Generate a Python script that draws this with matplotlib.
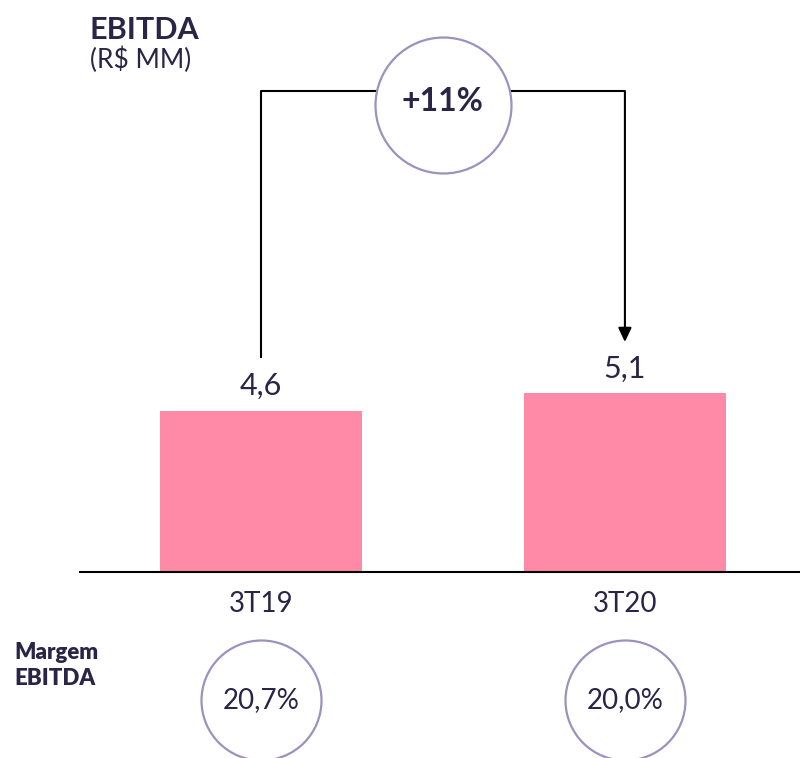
import matplotlib
matplotlib.use("Agg")
import matplotlib.pyplot as plt

# data
periods = ["3T19", "3T20"]
ebitda = [4.6, 5.1]
value_labels = ["4,6", "5,1"]
margins = ["20,7%", "20,0%"]
growth = "+11%"

navy = "#2a2546"
pink = "#ff8aa7"
lilac = "#9d91bd"

plt.rcParams["font.family"] = ["Lato", "DejaVu Sans"]

fig = plt.figure(figsize=(8, 7.58), dpi=100)
ax = fig.add_axes([0.1, 186 / 758, 0.9, 572 / 758])

x = list(range(len(periods)))
ax.bar(x, ebitda, width=0.555, color=pink, zorder=2)

ax.set_xlim(-0.497, 1.481)
ax.set_ylim(0, 16.34)
for side in ["top", "left", "right"]:
    ax.spines[side].set_visible(False)
ax.spines["bottom"].set_linewidth(1.5)
ax.spines["bottom"].set_color("black")
ax.set_xticks([])
ax.set_yticks([])

for i, v in enumerate(ebitda):
    ax.annotate(value_labels[i], (i, v), xytext=(0, 11.5), textcoords="offset points",
                ha="center", va="baseline", fontsize=22, color=navy)
    ax.annotate(periods[i], (i, 0), xytext=(0, -28.8), textcoords="offset points",
                ha="center", va="baseline", fontsize=20, color=navy, annotation_clip=False)

# connector from 3T19 to 3T20
top = 13.74
ax.plot([0, 0, 1], [ebitda[0] + 1.51, top, top], color="black", lw=1.5,
        solid_capstyle="butt", zorder=3)
ax.annotate("", xy=(1, ebitda[1] + 1.47), xytext=(1, top),
            arrowprops=dict(arrowstyle="-|>,head_length=0.85,head_width=0.4",
                            color="black", lw=1.5, shrinkA=0, shrinkB=0), zorder=3)

ax.scatter([0.5], [13.34], s=9585, facecolor="white", edgecolor=lilac,
           linewidth=1.6, zorder=4, clip_on=False)
ax.text(0.5, 13.44, growth, ha="center", va="center", fontsize=23,
        fontweight="bold", color=navy, zorder=5)

# margin circles
ax.scatter(x, [-3.66] * len(x), s=(120 * 0.72) ** 2, facecolor="white",
           edgecolor=lilac, linewidth=1.6, zorder=4, clip_on=False)
for i, m in enumerate(margins):
    ax.text(i, -3.66, m, ha="center", va="center", fontsize=20, color=navy,
            zorder=5, clip_on=False)

fig.text(90 / 800, 1 - 39 / 758, "EBITDA", fontsize=22, fontweight="bold",
         color=navy, va="baseline")
fig.text(90 / 800, 1 - 68 / 758, "(R$ MM)", fontsize=19, color=navy, va="baseline")
fig.text(14 / 800, 1 - 659 / 758, "Margem", fontsize=16, fontweight="heavy",
         color=navy, va="baseline")
fig.text(14 / 800, 1 - 685 / 758, "EBITDA", fontsize=16, fontweight="heavy",
         color=navy, va="baseline")

fig.savefig("out.png", dpi=100)
